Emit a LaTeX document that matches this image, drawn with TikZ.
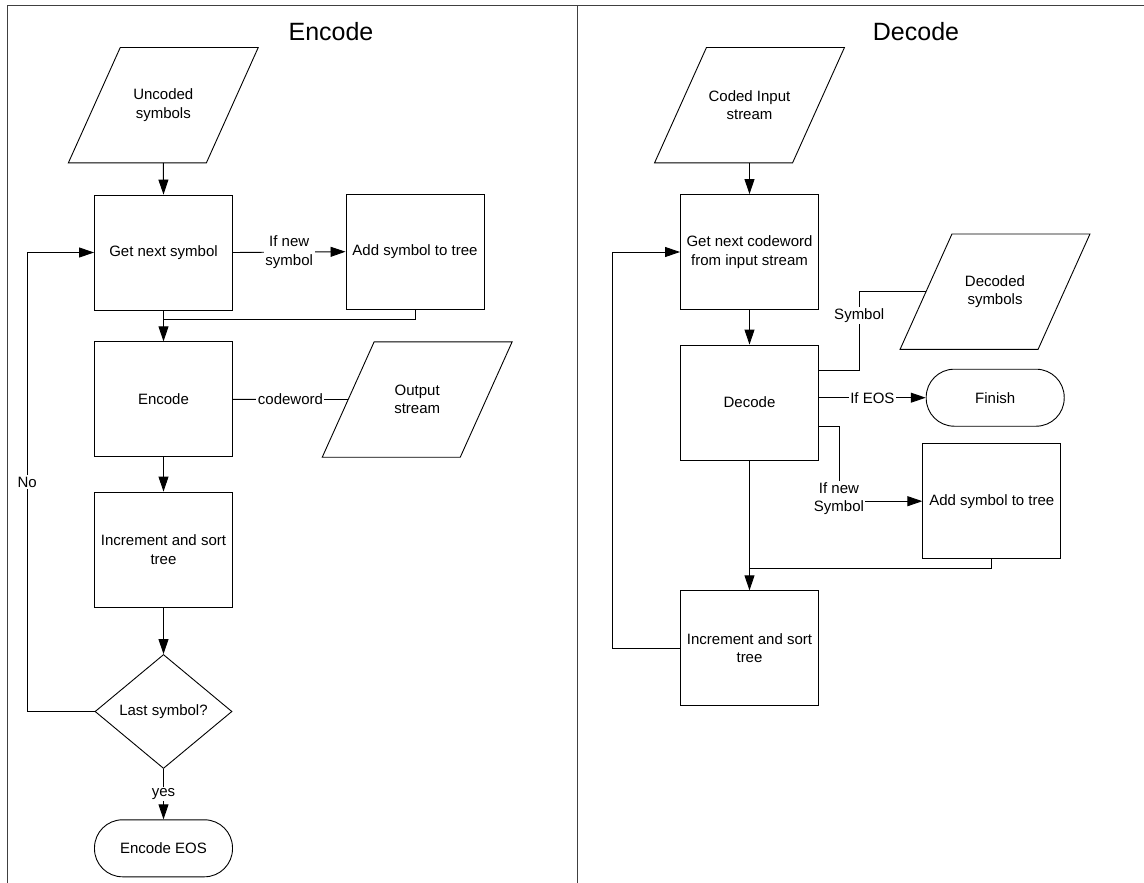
\documentclass[tikz,border=0pt]{standalone}
\usepackage{fontspec}
\setmainfont{Liberation Sans}
\usetikzlibrary{arrows.meta,shapes.geometric,calc}

\begin{document}
\begin{tikzpicture}[x=1pt,y=-1pt,
  every node/.style={font=\fontsize{15}{18.3}\selectfont, align=center},
  title/.style={font=\fontsize{25}{30}\selectfont},
  stepbox/.style={draw, line width=0.9pt, minimum width=138, minimum height=115, inner sep=0pt},
  iobox/.style={minimum width=189.5, minimum height=115, inner sep=0pt},
  endbox/.style={draw, line width=0.9pt, rounded corners=28pt, minimum width=138, minimum height=57, inner sep=0pt},
  decision/.style={draw, diamond, line width=0.9pt, minimum width=137, minimum height=114, inner sep=0pt},
  ioline/.style={line width=0.9pt},
  link/.style={line width=0.9pt},
  flow/.style={link, -{Triangle[length=15pt,width=10pt]}},
  tag/.style={fill=white, inner sep=1.5pt},
  frame/.style={line width=1.4pt, draw=black!75}
]
\useasboundingbox (0,0) rectangle (1144,883);

% page frame and column divider
\coordinate (fbl) at (7.5,883);
\coordinate (ftl) at (7.5,5.5);
\coordinate (ftr) at (1144,5.5);
\coordinate (mtop) at (577.3,5.5);
\coordinate (mbot) at (577.3,883);
\draw[frame] (fbl) -- (ftl) -- (ftr);
\draw[frame] (mtop) -- (mbot);

% ---------------- Encode column ----------------
\node[title] (tenc) at (331,31.7) {Encode};
\node[iobox] (unc) at (163.3,105.2) {Uncoded\\symbols};
\node[stepbox] (get) at (163.5,252.5) {Get next symbol};
\node[stepbox] (add) at (415,251.7) {Add symbol to tree};
\node[stepbox] (enc) at (163.5,399.3) {Encode};
\node[iobox] (out) at (417.2,399.5) {Output\\stream};
\node[stepbox] (inc) at (163.5,549.5) {Increment and sort\\tree};
\node[decision] (last) at (163.5,711.5) {Last symbol?};
\node[endbox] (eos) at (163.5,848.3) {Encode EOS};

% ---------------- Decode column ----------------
\node[title] (tdec) at (916,31.7) {Decode};
\node[iobox] (cin) at (749.5,105.2) {Coded Input\\stream};
\node[stepbox] (getc) at (749.5,252) {Get next codeword\\from input stream};
\node[stepbox] (dcd) at (749.5,402.5) {Decode};
\node[iobox] (dsym) at (995,291.7) {Decoded\\symbols};
\node[endbox] (fin) at (995.2,397.7) {Finish};
\node[stepbox] (addd) at (991.8,501.2) {Add symbol to tree};
\node[stepbox] (incd) at (749.5,648.3) {Increment and sort\\tree};

% parallelogram outlines (slant 51.5, edge 138)
\foreach \n in {unc,out,cin,dsym}
  \draw[ioline] (\n.south west) -- ++(138,0) -- (\n.north east) -- ++(-138,0) -- cycle;
\coordinate (outL) at ($(out.west)+(25.75,0)$);
\coordinate (dsymL) at ($(dsym.west)+(25.75,0)$);

% Encode connectors
\draw[flow] (unc.south) -- (get.north);
\draw[flow] (get.east) -- node[tag]{If new\\symbol} (add.west);
\draw[flow] (get.south) -- (enc.north);
\coordinate (encj) at ($(enc.north)+(0,-22)$);
\draw[link] (add.south) |- (encj);
\draw[link] (enc.east) -- node[tag]{codeword} (outL);
\draw[flow] (enc.south) -- (inc.north);
\draw[flow] (inc.south) -- (last.north);
\draw[flow] (last.west) -- ++(-67.3,0) |- node[tag,pos=0.25]{No} (get.west);
\draw[flow] (last.south) -- node[tag]{yes} (eos.north);

% Decode connectors
\draw[flow] (cin.south) -- (getc.north);
\draw[flow] (getc.south) -- (dcd.north);
\draw[link] ([yshift=32.5pt]dcd.east) -- ++(40.3,0) |- node[tag,pos=0.35]{Symbol} (dsymL);
\draw[flow] (dcd.east |- fin.west) -- node[tag]{If EOS} (fin.west);
\draw[flow] ([yshift=-23.5pt]dcd.east) -- ++(20,0) |- node[tag,pos=0.5,yshift=2.7pt]{If new\\Symbol} (addd.west);
\draw[flow] (dcd.south) -- (incd.north);
\coordinate (decj) at ($(incd.north)+(0,-21.7)$);
\draw[link] (addd.south) |- (decj);
\draw[flow] (incd.west) -- ++(-67.4,0) |- (getc.west);
\end{tikzpicture}
\end{document}
